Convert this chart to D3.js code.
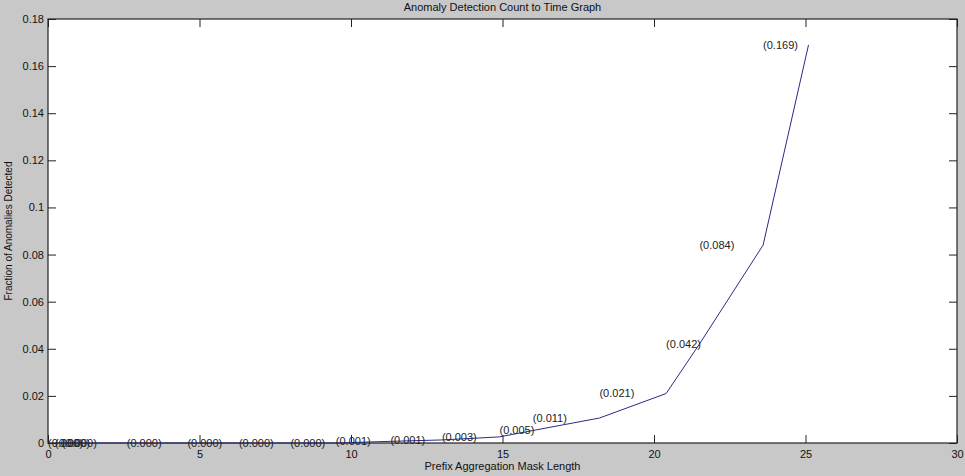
<!DOCTYPE html>
<html>
<head>
<meta charset="utf-8">
<script src="https://cdn.jsdelivr.net/npm/d3@7"></script>
<style>
  html, body { margin: 0; padding: 0; background: #c8c8c8; }
  svg { display: block; font-family: "Liberation Sans", Arial, sans-serif; }
  .tick text { font-size: 11px; fill: #111; }
  .pt-label { font-size: 11px; fill: #222; }
</style>
</head>
<body>
<div id="chart"></div>
<script>
// x position of each vertex (mask length)
const pointX = [0.23, 0.46, 2.6, 4.6, 6.3, 8.0, 9.5, 11.3, 13.0, 14.9, 16.0, 18.2, 20.4, 21.5, 23.6, 25.1];
// detected fraction at each vertex (also the annotation text)
const fractions = [0, 0, 0, 0, 0, 0, 0, 0.0007, 0.0013, 0.0026, 0.0053, 0.0106, 0.021, 0.042, 0.084, 0.169];
// where each annotation starts (one step behind its vertex)
const labelX = [0, 0.23, 0.46, 2.6, 4.6, 6.3, 8.0, 9.5, 11.3, 13.0, 14.9, 16.0, 18.2, 20.4, 21.5, 23.6];
const xTicks = [0, 5, 10, 15, 20, 25, 30];
const yTicks = [0, 0.02, 0.04, 0.06, 0.08, 0.1, 0.12, 0.14, 0.16, 0.18];

const lineData = pointX.map((x, i) => ({ x, y: fractions[i] }));

const width = 965, height = 476;
const margin = { top: 19, right: 8, bottom: 33, left: 48 };
const innerW = width - margin.left - margin.right;
const innerH = height - margin.top - margin.bottom;

const svg = d3.select('#chart').append('svg')
  .attr('width', width)
  .attr('height', height);

const xScale = d3.scaleLinear().domain([0, 30]).range([margin.left, margin.left + innerW]);
const yScale = d3.scaleLinear().domain([0, 0.18]).range([margin.top + innerH, margin.top]);

// plot area
svg.append('rect')
  .attr('x', margin.left).attr('y', margin.top)
  .attr('width', innerW).attr('height', innerH)
  .attr('fill', '#fff');

const fmtY = d => d === 0 ? '0' : String(+d.toFixed(2));

// axes with inward ticks
const axBottom = svg.append('g')
  .attr('transform', `translate(0,${margin.top + innerH})`)
  .call(d3.axisBottom(xScale).tickValues(xTicks).tickSize(-8).tickPadding(5).tickFormat(d3.format('d')));
const axTop = svg.append('g')
  .attr('transform', `translate(0,${margin.top})`)
  .call(d3.axisTop(xScale).tickValues(xTicks).tickSize(-8).tickFormat(''));
const axLeft = svg.append('g')
  .attr('transform', `translate(${margin.left},0)`)
  .call(d3.axisLeft(yScale).tickValues(yTicks).tickSize(-8).tickPadding(4).tickFormat(fmtY));
const axRight = svg.append('g')
  .attr('transform', `translate(${margin.left + innerW},0)`)
  .call(d3.axisRight(yScale).tickValues(yTicks).tickSize(-8).tickFormat(''));

[axBottom, axTop, axLeft, axRight].forEach(g => {
  g.select('.domain').remove();
  g.selectAll('.tick line').attr('stroke', '#222');
});
axBottom.selectAll('.tick text').attr('dy', '0.9em');

// frame
svg.append('rect')
  .attr('x', margin.left).attr('y', margin.top)
  .attr('width', innerW).attr('height', innerH)
  .attr('fill', 'none')
  .attr('stroke', '#222')
  .attr('stroke-width', 1.2);

// data line
const line = d3.line().x(d => xScale(d.x)).y(d => yScale(d.y));
svg.append('path')
  .datum(lineData)
  .attr('fill', 'none')
  .attr('stroke', '#2a2a8a')
  .attr('stroke-width', 1)
  .attr('d', line);

// value annotations
svg.append('g')
  .selectAll('text')
  .data(fractions)
  .join('text')
  .attr('class', 'pt-label')
  .attr('x', (d, i) => xScale(labelX[i]))
  .attr('y', d => yScale(d))
  .attr('dy', '0.35em')
  .text(d => `(${d.toFixed(3)})`);

// titles
svg.append('text')
  .attr('x', margin.left + innerW / 2)
  .attr('y', 11)
  .attr('text-anchor', 'middle')
  .attr('font-size', 11)
  .attr('fill', '#111')
  .text('Anomaly Detection Count to Time Graph');

svg.append('text')
  .attr('x', margin.left + innerW / 2)
  .attr('y', 470)
  .attr('text-anchor', 'middle')
  .attr('font-size', 11)
  .attr('fill', '#111')
  .text('Prefix Aggregation Mask Length');

svg.append('text')
  .attr('transform', `translate(12,${margin.top + innerH / 2}) rotate(-90)`)
  .attr('text-anchor', 'middle')
  .attr('font-size', 10)
  .attr('fill', '#111')
  .text('Fraction of Anomalies Detected');
</script>
</body>
</html>
